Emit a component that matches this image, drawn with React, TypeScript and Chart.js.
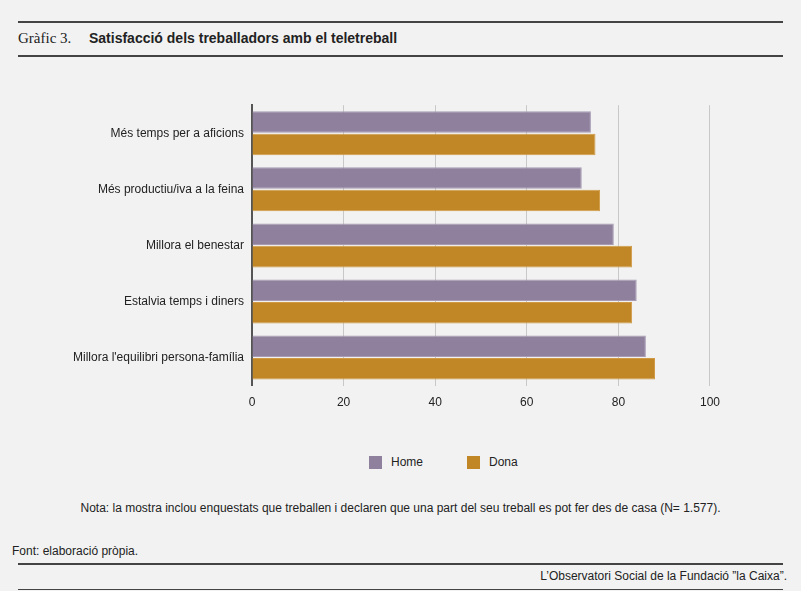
import React, { useEffect, useRef } from "react";
import { Chart, registerables } from "chart.js";
Chart.register(...registerables);

const categories = ["Més temps per a aficions", "Més productiu/iva a la feina", "Millora el benestar", "Estalvia temps i diners", "Millora l'equilibri persona-família"];
const homeValues = [74, 72, 79, 84, 86];
const donaValues = [75, 76, 83, 83, 88];
const xTicks = [0, 20, 40, 60, 80, 100];

const SANS = "'Liberation Sans', Arial, sans-serif";

export default function App() {
  const ref = useRef<HTMLCanvasElement>(null);
  useEffect(() => {
    document.body.style.margin = "0";
    const chart = new Chart(ref.current!, {
      type: "bar",
      data: {
        labels: categories,
        datasets: [
          { label: "Home", data: homeValues, backgroundColor: "#8f819e", borderColor: "#a79bb4", borderWidth: 1, categoryPercentage: 0.8, barPercentage: 0.96 },
          { label: "Dona", data: donaValues, backgroundColor: "#c18726", borderColor: "#d09a45", borderWidth: 1, categoryPercentage: 0.8, barPercentage: 0.96 },
        ],
      },
      options: {
        indexAxis: "y",
        animation: false,
        responsive: false,
        layout: { padding: { top: 10, right: 16 } },
        plugins: { legend: { display: false }, tooltip: { enabled: false } },
        scales: {
          x: {
            min: 0, max: 100,
            afterBuildTicks: (s: any) => { s.ticks = xTicks.map((v) => ({ value: v })); },
            grid: { color: "#c8c8c8", drawTicks: false },
            border: { display: false },
            ticks: { color: "#222", font: { family: SANS, size: 12 }, padding: 10 },
          },
          y: {
            afterFit: (s: any) => { s.width = 252; },
            grid: { display: false, drawTicks: false },
            border: { color: "#555", width: 2 },
            ticks: { color: "#222", font: { family: SANS, size: 12 }, padding: 8 },
          },
        },
      },
    });
    return () => chart.destroy();
  }, []);
  const line = (top: number, w = 2) => (
    <div style={{ position: "absolute", left: 18, width: 765, top, height: w, background: "#444" }} />
  );
  return (
    <div style={{ position: "relative", width: 801, height: 591, background: "#f2f2f2", overflow: "hidden", fontFamily: SANS, color: "#222" }}>
      {line(21)}
      <div style={{ position: "absolute", left: 18, top: 30, fontSize: 14, whiteSpace: "nowrap" }}>
        <span style={{ fontFamily: "'Liberation Serif', serif", fontSize: 15 }}>Gràfic 3.</span>
        <span style={{ position: "absolute", left: 71, fontWeight: "bold" }}>Satisfacció dels treballadors amb el teletreball</span>
      </div>
      {line(55)}
      <canvas ref={ref} width={730} height={330} style={{ position: "absolute", left: 0, top: 90 }} />
      <div style={{ position: "absolute", left: 369, top: 455, fontSize: 12, display: "flex", alignItems: "center" }}>
        <span style={{ width: 13, height: 13, background: "#8f819e", display: "inline-block", marginRight: 9 }} />Home
        <span style={{ width: 13, height: 13, background: "#c18726", display: "inline-block", marginLeft: 44, marginRight: 9 }} />Dona
      </div>
      <div style={{ position: "absolute", left: 0, width: 801, top: 501, fontSize: 12, textAlign: "center" }}>
        Nota: la mostra inclou enquestats que treballen i declaren que una part del seu treball es pot fer des de casa (N= 1.577).
      </div>
      <div style={{ position: "absolute", left: 12, top: 544, fontSize: 12 }}>Font: elaboració pròpia.</div>
      {line(563)}
      <div style={{ position: "absolute", right: 14, top: 569, fontSize: 12 }}>L’Observatori Social de la Fundació ”la Caixa”.</div>
      <div style={{ position: "absolute", left: 18, width: 765, top: 589, height: 1, background: "#444" }} />
    </div>
  );
}
